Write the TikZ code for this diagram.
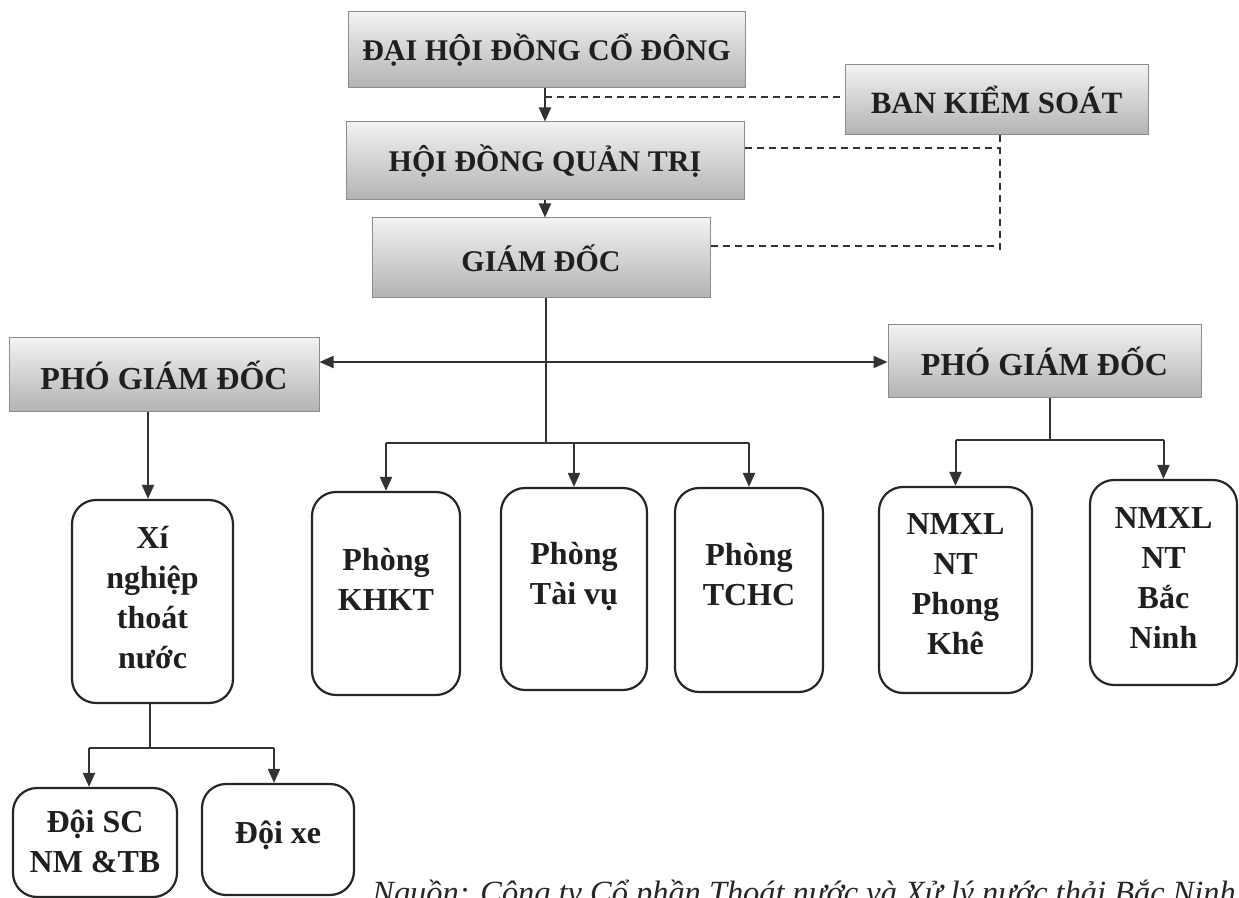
\documentclass[tikz,border=0pt]{standalone}
\usepackage{fontspec}
\setmainfont{Liberation Serif}
\usetikzlibrary{arrows.meta}
\begin{document}
\begin{tikzpicture}[x=0.5pt,y=-0.5pt,
  sbox/.style={draw=black!45, line width=0.5pt, top color=black!5, bottom color=black!30,
    inner sep=0pt, text=black!88},
  rbox/.style={draw=black!85, line width=1.1pt, rounded corners=12pt, inner sep=0pt},
  rtxt/.style={font=\bfseries\fontsize{16}{20}\selectfont, align=center, text=black!88, inner sep=0pt},
  ln/.style={line width=1pt, draw=black!80},
  arr/.style={line width=1pt, draw=black!80, -{Triangle[length=7pt,width=6pt]}},
  darr/.style={line width=1pt, draw=black!80, {Triangle[length=7pt,width=6pt]}-{Triangle[length=7pt,width=6pt]}},
  dsh/.style={line width=0.9pt, draw=black!80, dash pattern=on 3.5pt off 2.5pt}]
\useasboundingbox (0,0) rectangle (1239,898);
\fill[white] (0,0) rectangle (1239,898);

% shaded boxes
\node[sbox, minimum width=198.5pt, minimum height=38pt, font=\bfseries\fontsize{15}{18}\selectfont] (dai) at (546.5,50) {ĐẠI HỘI ĐỒNG CỔ ĐÔNG};
\node[sbox, minimum width=151.5pt, minimum height=35pt, font=\bfseries\fontsize{15.5}{18}\selectfont] (bks) at (996.5,100) {BAN KIỂM SOÁT};
\node[sbox, minimum width=199pt, minimum height=39pt, font=\bfseries\fontsize{15}{18}\selectfont] (hdqt) at (545,161) {HỘI ĐỒNG QUẢN TRỊ};
\node[sbox, minimum width=169pt, minimum height=40pt, font=\bfseries\fontsize{15}{18}\selectfont] (gd) at (541,258) {GIÁM ĐỐC};
\node[sbox, minimum width=155pt, minimum height=37pt, font=\bfseries\fontsize{16}{19}\selectfont] (pgdL) at (164,375) {PHÓ GIÁM ĐỐC};
\node[sbox, minimum width=156.5pt, minimum height=36.5pt, font=\bfseries\fontsize{16}{19}\selectfont] (pgdR) at (1044.5,361.5) {PHÓ GIÁM ĐỐC};

% rounded boxes
\node[rbox, minimum width=80.5pt, minimum height=101.5pt] (xi) at (152.5,601.5) {};
\node[rbox, minimum width=74pt, minimum height=101.5pt] (khkt) at (386,593.5) {};
\node[rbox, minimum width=73pt, minimum height=101pt] (tv) at (574,589) {};
\node[rbox, minimum width=74pt, minimum height=102pt] (tchc) at (749,590) {};
\node[rbox, minimum width=76.5pt, minimum height=103pt] (pk) at (955.5,590) {};
\node[rbox, minimum width=73.5pt, minimum height=102.5pt] (bn) at (1163.5,582.5) {};
\node[rbox, minimum width=82pt, minimum height=54.5pt] (dsc) at (95,842.5) {};
\node[rbox, minimum width=76pt, minimum height=55.5pt] (dxe) at (278,839.5) {};

% texts of rounded boxes
\node[rtxt] (xit) at (152.5,598) {Xí\\nghiệp\\thoát\\nước};
\node[rtxt] (khktt) at (386,579) {Phòng\\KHKT};
\node[rtxt] (tvt) at (574,577) {Phòng\\Tài vụ};
\node[rtxt] (tchct) at (749,575) {Phòng\\TCHC};
\node[rtxt] (pkt) at (955.5,584) {NMXL\\NT\\Phong\\Khê};
\node[rtxt] (bnt) at (1163.5,578) {NMXL\\NT\\Bắc\\Ninh};
\node[rtxt] (dsct) at (95,841) {Đội SC\\NM \&TB};
\node[rtxt] (dxet) at (278,835) {Đội xe};

% coordinates
\coordinate (spine) at (545,0);
\coordinate (k2) at (1000,148);
\coordinate (k3) at (1000,253);
\coordinate (k4) at (1000,246);
\coordinate (k1) at (545,97);
\coordinate (bus1) at (546,443);
\coordinate (mid) at (546,362);
\coordinate (c1) at (148,0);
\coordinate (bus2) at (1050,440);
\coordinate (bus3) at (150,748);
\coordinate (a1) at (89,0);
\coordinate (a2) at (274,0);

% top chain
\draw[arr] (dai.south -| spine) -- (hdqt.north -| spine);
\draw[arr] (hdqt.south -| spine) -- (gd.north -| spine);
\draw[dsh] (k1) -- (k1 -| bks.west);
\draw[dsh] (k2 -| hdqt.east) -- (k2);
\draw[dsh] (bks.south -| k2) -- (k3);
\draw[dsh] (k4 -| gd.east) -- (k4);

% director
\draw[ln] (gd.south -| bus1) -- (bus1);
\draw[darr] (mid -| pgdL.east) -- (mid -| pgdR.west);
\draw[ln] (bus1 -| khkt.north) -- (bus1 -| tchc.north);
\draw[arr] (bus1 -| khkt.north) -- (khkt.north);
\draw[arr] (bus1 -| tv.north) -- (tv.north);
\draw[arr] (bus1 -| tchc.north) -- (tchc.north);

% left deputy
\draw[arr] (pgdL.south -| c1) -- (xi.north -| c1);
\draw[ln] (xi.south -| bus3) -- (bus3);
\draw[ln] (bus3 -| a1) -- (bus3 -| a2);
\draw[arr] (bus3 -| a1) -- (dsc.north -| a1);
\draw[arr] (bus3 -| a2) -- (dxe.north -| a2);

% right deputy
\draw[ln] (pgdR.south -| bus2) -- (bus2);
\draw[ln] (bus2 -| pk.north) -- (bus2 -| bn.north);
\draw[arr] (bus2 -| pk.north) -- (pk.north);
\draw[arr] (bus2 -| bn.north) -- (bn.north);

% source caption
\node[anchor=base west, inner sep=0pt, text=black!85, font=\itshape\fontsize{16.2}{19}\selectfont] (src) at (372,904) {Nguồn: Công ty Cổ phần Thoát nước và Xử lý nước thải Bắc Ninh};
\end{tikzpicture}
\end{document}
